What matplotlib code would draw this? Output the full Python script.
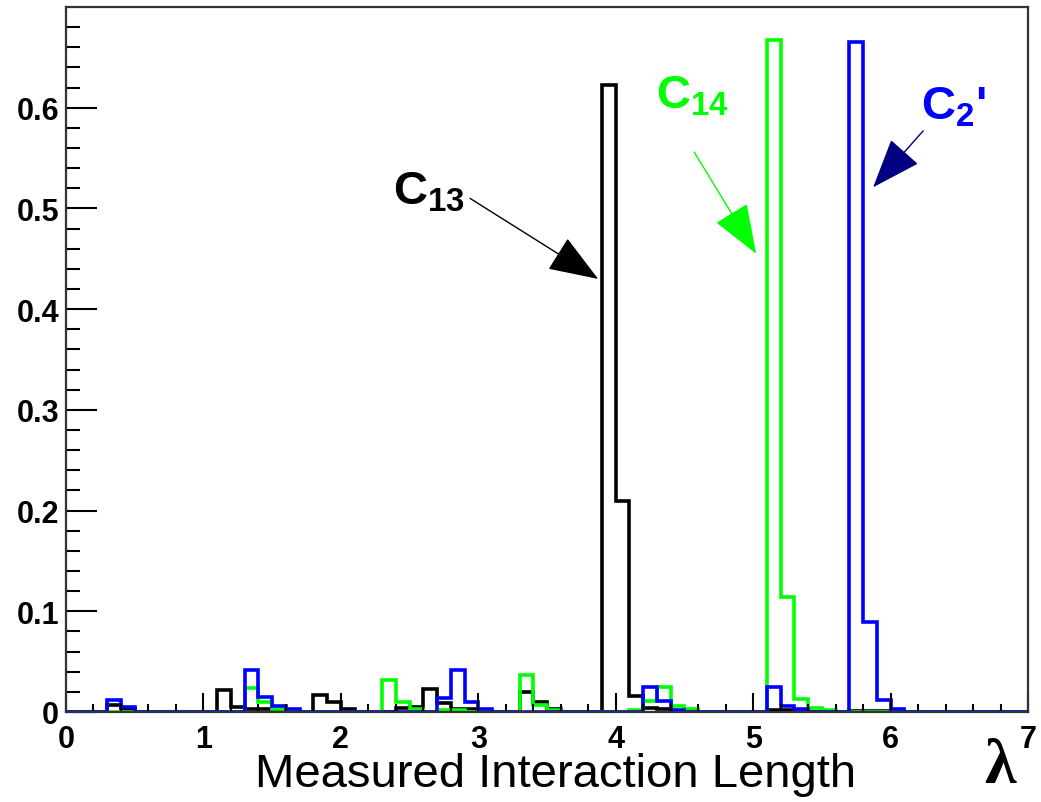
import numpy as np
import matplotlib
matplotlib.use("Agg")
import matplotlib.pyplot as plt

plt.rcParams['font.family'] = ['Liberation Sans', 'DejaVu Sans']
plt.rcParams['mathtext.fontset'] = 'custom'
plt.rcParams['mathtext.rm'] = 'Liberation Sans'
plt.rcParams['mathtext.bf'] = 'Liberation Sans:bold'
plt.rcParams['mathtext.it'] = 'Liberation Sans:italic'

# bin edges: 70 bins of width 0.1 from 0 to 7
edges = np.round(np.arange(0, 7.0001, 0.1), 2)

c13 = [0, 0, 0, 0.007, 0.003, 0, 0, 0, 0, 0,
       0, 0.022, 0.005, 0.003, 0.003, 0.002, 0, 0, 0.017, 0.010,
       0.003, 0, 0, 0, 0.004, 0.005, 0.023, 0.009, 0.003, 0.003,
       0, 0, 0, 0.020, 0.010, 0.003, 0, 0, 0, 0.623,
       0.210, 0.016, 0.004, 0.003, 0.001, 0, 0, 0, 0, 0,
       0, 0.002, 0.002, 0, 0, 0, 0, 0.001, 0.001, 0.001,
       0.001, 0, 0, 0, 0, 0, 0, 0, 0, 0]

c14 = [0, 0, 0, 0, 0, 0, 0, 0, 0, 0,
       0, 0, 0, 0.024, 0.010, 0.003, 0, 0, 0, 0,
       0, 0, 0, 0.032, 0.010, 0.003, 0, 0.002, 0.002, 0,
       0, 0, 0, 0.037, 0.007, 0.002, 0, 0, 0, 0,
       0, 0.002, 0.011, 0.025, 0.006, 0.003, 0, 0, 0, 0,
       0, 0.667, 0.114, 0.013, 0.004, 0.002, 0, 0, 0, 0,
       0, 0, 0, 0, 0, 0, 0, 0, 0, 0]

c2p = [0, 0, 0, 0.012, 0.005, 0, 0, 0, 0, 0,
       0, 0, 0, 0.042, 0.015, 0.006, 0.003, 0, 0, 0,
       0, 0, 0, 0, 0, 0, 0, 0.014, 0.042, 0.010,
       0.003, 0, 0, 0, 0, 0, 0, 0, 0, 0,
       0, 0, 0.025, 0.011, 0.002, 0, 0, 0, 0, 0,
       0, 0.025, 0.006, 0.003, 0, 0, 0, 0.665, 0.089, 0.012,
       0.003, 0, 0, 0, 0, 0, 0, 0, 0, 0]

W, H = 1041, 803
fig = plt.figure(figsize=(W / 100, H / 100), dpi=100)
ax = fig.add_axes([66 / W, 1 - 713 / H, (1028 - 66) / W, (713 - 8) / H])

lw = 2.6
ax.stairs(c13, edges, color='black', lw=lw, baseline=0)
ax.stairs(c14, edges, color='#00ff00', lw=lw, baseline=0)
ax.stairs(c2p, edges, color='#0000ff', lw=lw, baseline=0)

ax.set_xlim(0, 7)
ax.set_ylim(0, 0.7)
ax.set_xticks(np.arange(0, 8, 1))
ax.set_xticks(np.arange(0, 7.01, 0.2), minor=True)
ax.set_yticks(np.arange(0, 0.61, 0.1))
ax.set_yticks(np.arange(0, 0.7, 0.02), minor=True)
ax.set_xticklabels([str(i) for i in range(8)])
ax.set_yticklabels(['0', '0.1', '0.2', '0.3', '0.4', '0.5', '0.6'])
ax.tick_params(axis='x', which='major', direction='in', length=14, width=1.5,
               labelsize=22, pad=9, top=False)
ax.tick_params(axis='x', which='minor', direction='in', length=6, width=1.5, top=False)
ax.tick_params(axis='y', which='major', direction='in', length=22, width=1.5,
               labelsize=22, pad=5, right=False)
ax.tick_params(axis='y', which='minor', direction='in', length=10, width=1.5, right=False)
for lab in ax.get_xticklabels() + ax.get_yticklabels():
    lab.set_fontweight('bold')
for s in ax.spines.values():
    s.set_linewidth(1.6)
    s.set_color('#333333')

# annotations
def arrow(tail, tip, color):
    ax.annotate('', xy=tip, xytext=tail,
                arrowprops=dict(arrowstyle='-|>,head_length=1.6,head_width=0.6',
                                mutation_scale=20, color=color, lw=1,
                                shrinkA=0, shrinkB=0))

ax.text(2.642, 0.517, r'$\mathbf{C_{13}}$', color='black', fontsize=34,
        ha='center', va='center')
arrow((2.94, 0.510), (3.872, 0.430), 'black')

ax.text(4.556, 0.612, r'$\mathbf{C_{14}}$', color='#00ff00', fontsize=34,
        ha='center', va='center')
arrow((4.571, 0.556), (5.022, 0.455), '#00ff00')

ax.text(6.456, 0.601, r"$\mathbf{C_{2}}$'", color='#0000ff', fontsize=34,
        fontweight='bold', ha='center', va='center')
arrow((6.237, 0.577), (5.873, 0.521), '#000080')

fig.text(556 / W, 1 - 775 / H, 'Measured Interaction Length', fontsize=34,
         ha='center', va='center')
fig.text(1000 / W, 1 - 768 / H, 'λ', fontsize=46, family='Liberation Serif',
         fontweight='bold', ha='center', va='center')

fig.savefig('out.png', dpi=100)
